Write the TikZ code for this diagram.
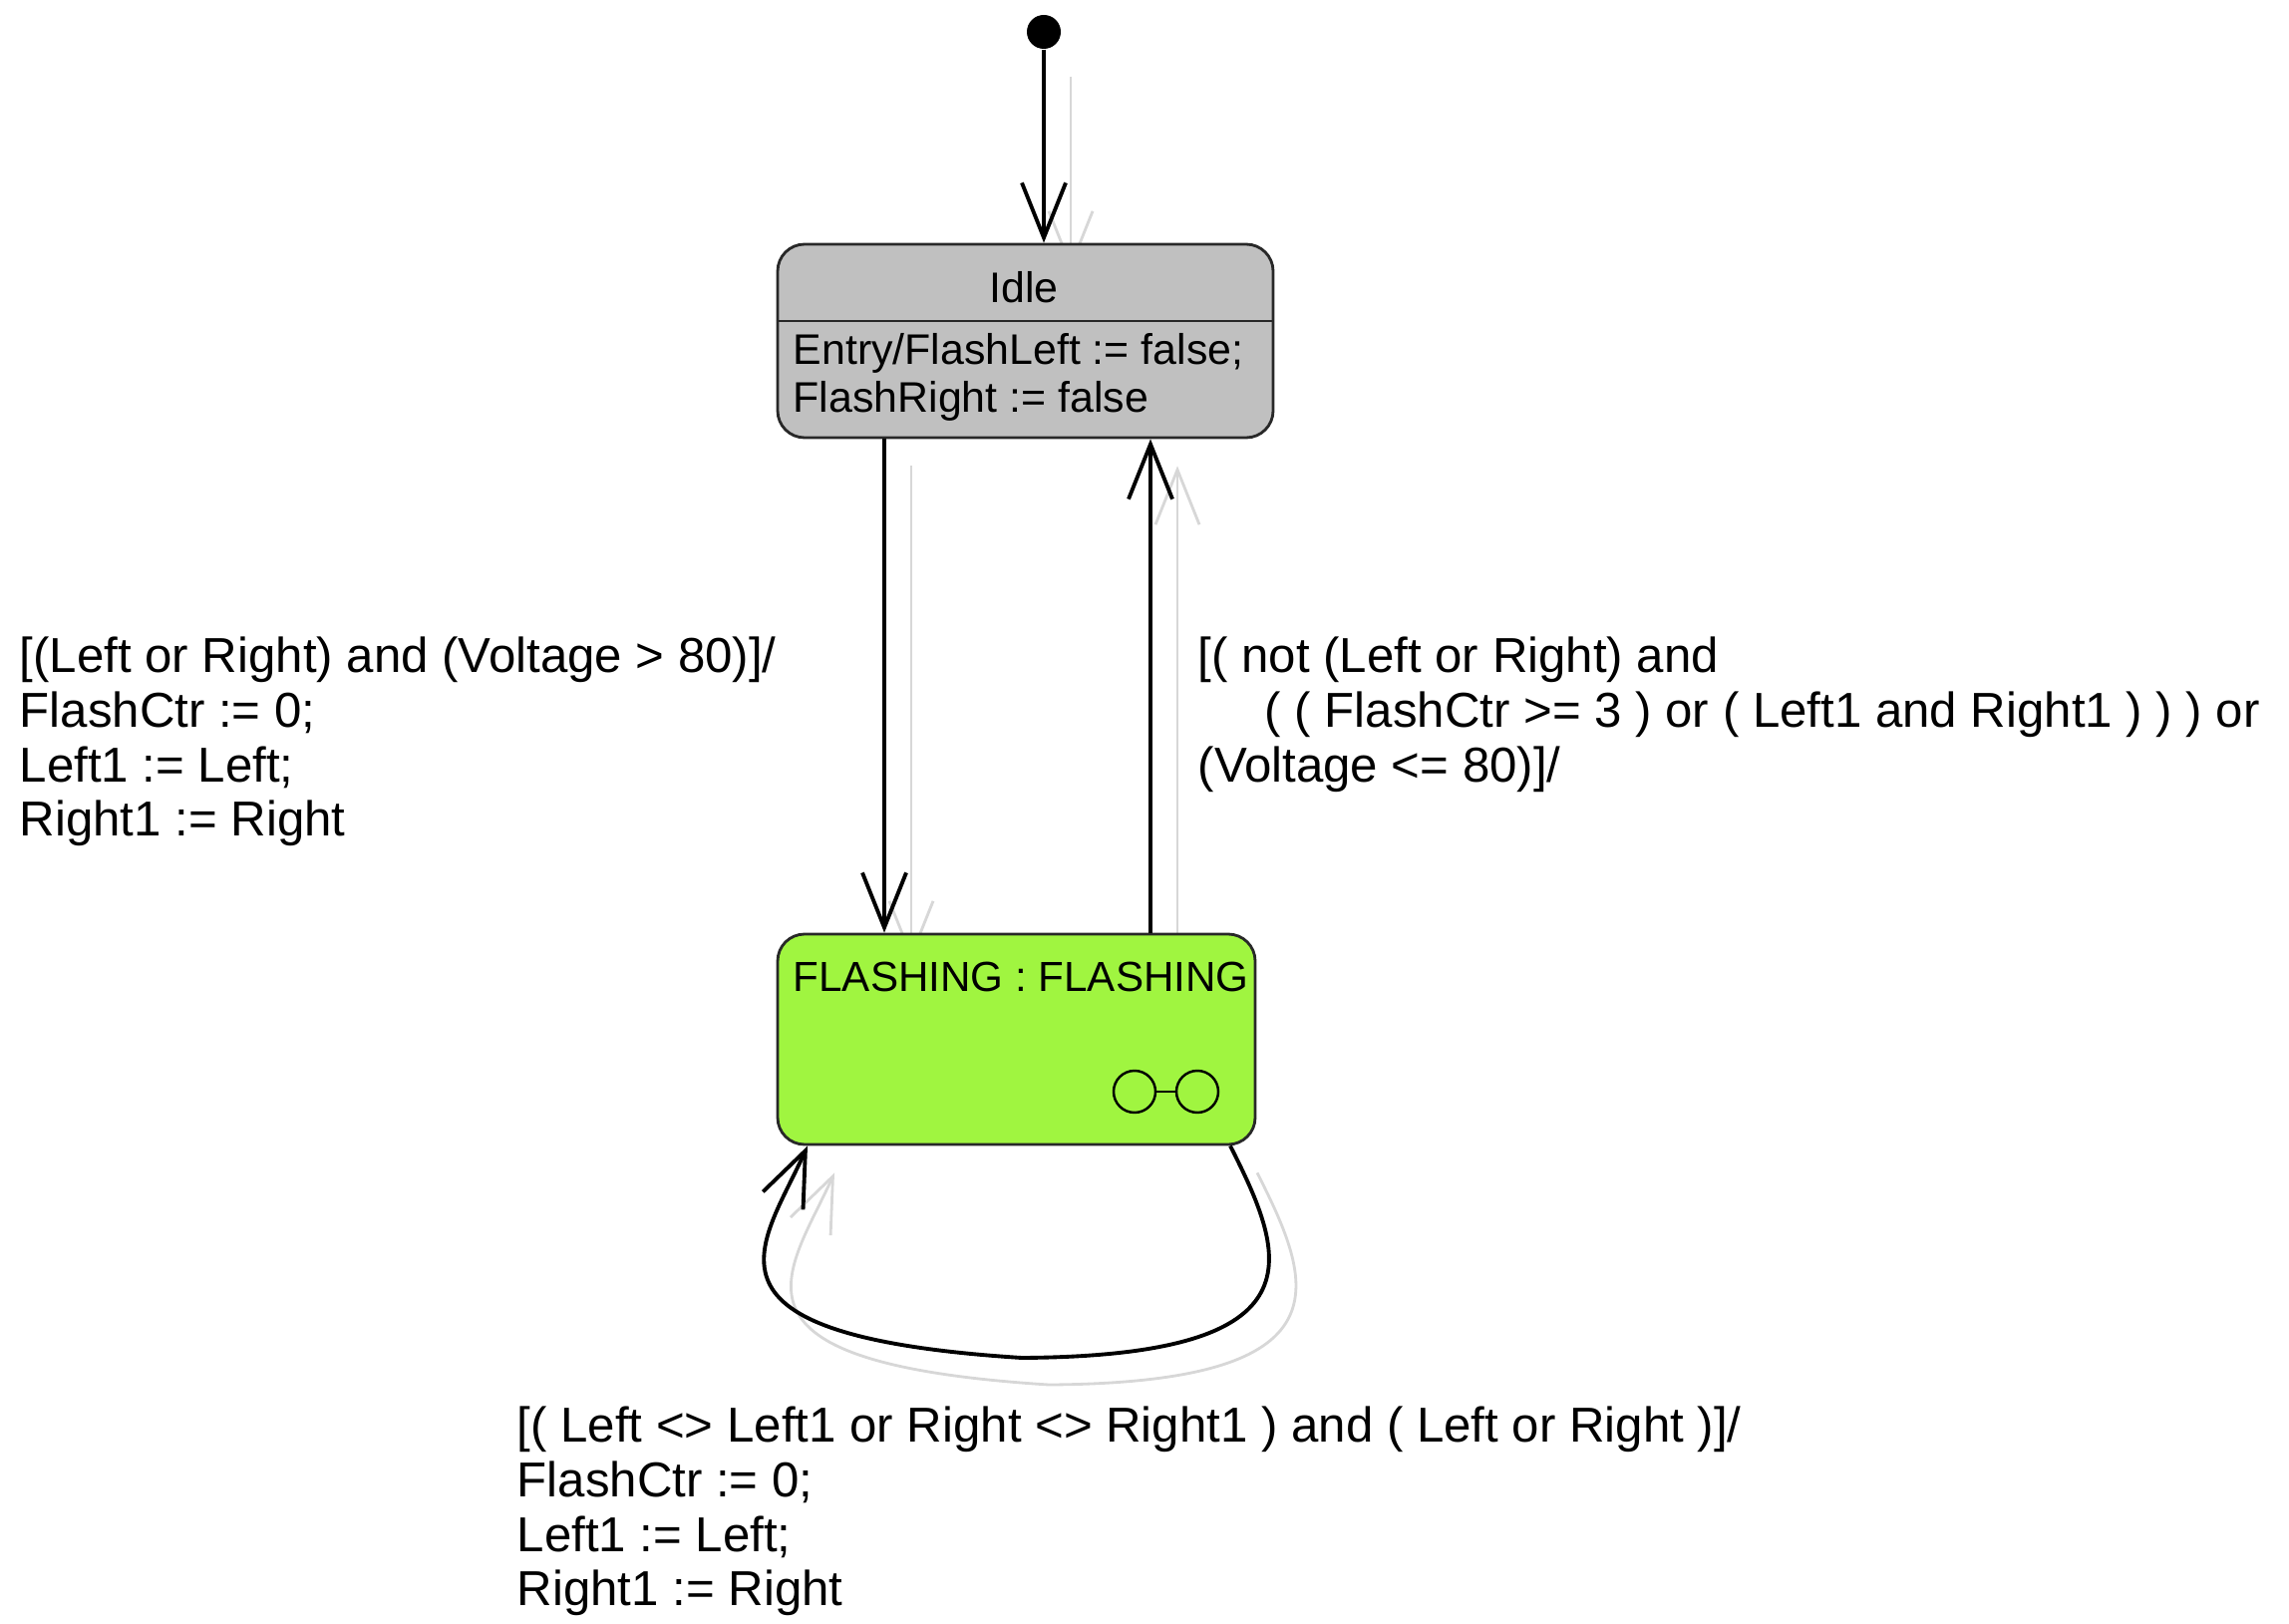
\documentclass[tikz,border=0pt]{standalone}
\usepackage{fontspec}
\setmainfont{Liberation Sans}
\usetikzlibrary{arrows.meta,backgrounds}

\definecolor{idlegray}{RGB}{192,192,192}
\definecolor{flashgreen}{RGB}{160,245,64}
\definecolor{shadowgray}{RGB}{215,215,215}
\definecolor{boxline}{RGB}{40,40,40}

\tikzset{
  statebox/.style={draw=boxline, line width=0.8pt, rounded corners=0.27cm, inner sep=0pt},
  link/.style={line width=1.1pt, -{Straight Barb[length=5.5mm,width=4.4mm]}},
  boxtext/.style={font=\fontsize{12.2}{13.7}\selectfont, inner sep=0pt, align=left},
  guard/.style={font=\fontsize{14}{15.6}\selectfont, inner sep=0pt, align=left, anchor=west},
}

\begin{document}
\begin{tikzpicture}[x=1cm,y=1cm]
\useasboundingbox (0,0) rectangle (22.96,-16.29);

% states
\node[circle, fill=black, minimum size=0.34cm, inner sep=0pt] (init) at (10.47,-0.32) {};
\node[statebox, fill=idlegray, minimum width=4.97cm, minimum height=1.94cm] (idle) at (10.285,-3.42) {};
\node[boxtext] (idlename) at (10.27,-2.88) {Idle};
\coordinate (sep) at (0,-3.22);
\draw[boxline, line width=0.8pt] (idle.west |- sep) -- (idle.east |- sep);
\node[boxtext, anchor=west] (idleentry) at (7.95,-3.78) {Entry/FlashLeft := false;\\FlashRight := false};

\node[statebox, fill=flashgreen, minimum width=4.79cm, minimum height=2.11cm] (flashing) at (10.195,-10.425) {};
\node[boxtext, font=\fontsize{12}{13.7}\selectfont, anchor=west] (flashname) at (7.95,-9.80) {FLASHING : FLASHING};
% sub-machine icon
\node[circle, draw=black, line width=0.7pt, minimum size=0.42cm, inner sep=0pt] (subA) at (11.38,-10.95) {};
\node[circle, draw=black, line width=0.7pt, minimum size=0.42cm, inner sep=0pt] (subB) at (12.01,-10.95) {};
\draw[line width=0.7pt] (subA) -- (subB);

% transitions
\coordinate (dn) at (8.87,0);
\coordinate (up) at (11.54,0);
\draw[link] (init) -- (init |- idle.north);
\draw[link] (idle.south -| dn) -- (flashing.north -| dn);
\draw[link] (flashing.north -| up) -- (idle.south -| up);
\draw[link] ([xshift=2.145cm]flashing.south) .. controls (12.9,-12.6) and (13.3,-13.6) .. (10.25,-13.62)
  .. controls (6.8,-13.4) and (7.65,-12.5) .. ([xshift=-2.095cm]flashing.south);

% shadows of the transitions
\begin{scope}[on background layer={transform canvas={shift={(0.27,-0.27)}}, color=shadowgray}]
\draw[link, line width=0.8pt] (init) -- (init |- idle.north);
\draw[link, line width=0.8pt] (idle.south -| dn) -- (flashing.north -| dn);
\draw[link, line width=0.8pt] (flashing.north -| up) -- (idle.south -| up);
\draw[link, line width=0.8pt] ([xshift=2.145cm]flashing.south) .. controls (12.9,-12.6) and (13.3,-13.6) .. (10.25,-13.62)
  .. controls (6.8,-13.4) and (7.65,-12.5) .. ([xshift=-2.095cm]flashing.south);
\end{scope}

% guards
\node[guard] (downguard) at (0.19,-7.44) {[(Left or Right) and (Voltage > 80)]/\\FlashCtr := 0;\\Left1 := Left;\\Right1 := Right};
\node[guard] (upguard) at (12.01,-7.17) {[( not (Left or Right) and\\\hspace*{0.67cm}( ( FlashCtr >= 3 ) or ( Left1 and Right1 ) ) ) or\\(Voltage <= 80)]/};
\node[guard] (loopguard) at (5.18,-15.16) {[( Left <> Left1 or Right <> Right1 ) and ( Left or Right )]/\\FlashCtr := 0;\\Left1 := Left;\\Right1 := Right};
\end{tikzpicture}
\end{document}
